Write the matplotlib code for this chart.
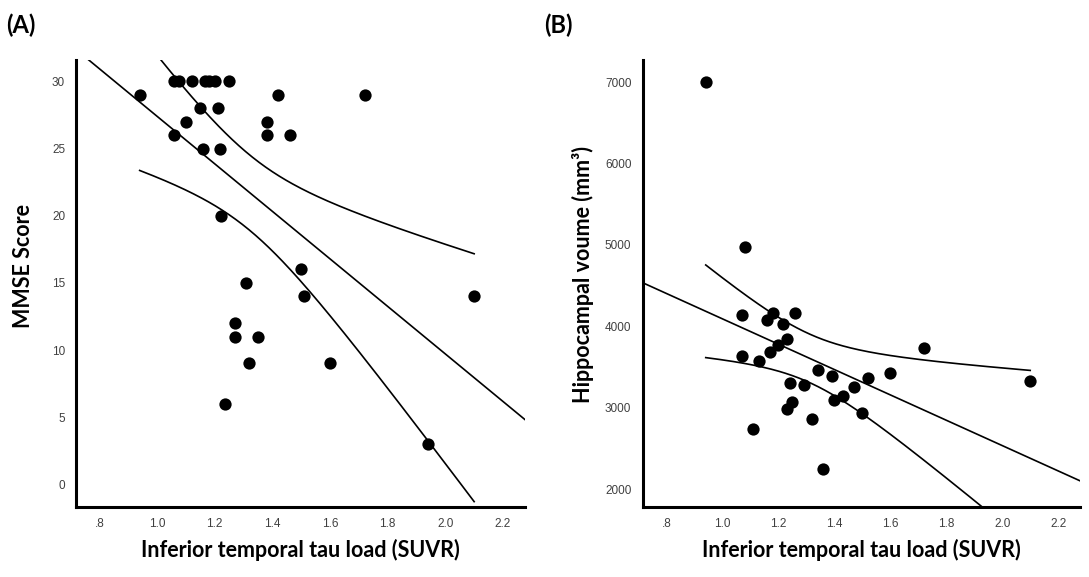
import matplotlib
matplotlib.use("Agg")
import matplotlib.pyplot as plt
import numpy as np

# Panel A: tau load vs MMSE
tau_a = [0.94, 1.06, 1.075, 1.12, 1.165, 1.18, 1.20, 1.25,
         1.15, 1.21, 1.10, 1.38, 1.06, 1.38, 1.46, 1.16, 1.22,
         1.42, 1.72, 1.223, 1.50, 1.31, 1.51, 1.27, 1.27, 1.35,
         1.32, 1.60, 1.235, 1.94, 2.10]
mmse = [29, 30, 30, 30, 30, 30, 30, 30,
        28, 28, 27, 27, 26, 26, 26, 25, 25,
        29, 29, 20, 16, 15, 14, 12, 11, 11,
        9, 9, 6, 3, 14]

# Panel B: tau load vs hippocampal volume
tau_b = [0.94, 1.08, 1.07, 1.18, 1.16, 1.26, 1.215, 1.23, 1.20, 1.17,
         1.07, 1.13, 1.34, 1.39, 1.52, 1.60, 1.24, 1.29, 1.47, 1.43,
         1.40, 1.25, 1.23, 1.50, 1.32, 1.11, 1.36, 1.72, 2.10]
hippo = [7000, 4980, 4140, 4160, 4080, 4170, 4030, 3850, 3770, 3690,
         3630, 3570, 3460, 3390, 3360, 3430, 3300, 3280, 3260, 3150,
         3090, 3070, 2990, 2940, 2860, 2740, 2250, 3730, 3330]

x_ticks = [0.8, 1.0, 1.2, 1.4, 1.6, 1.8, 2.0, 2.2]
x_tick_labels = [".8", "1.0", "1.2", "1.4", "1.6", "1.8", "2.0", "2.2"]
mmse_ticks = [0, 5, 10, 15, 20, 25, 30]
hippo_ticks = [2000, 3000, 4000, 5000, 6000, 7000]

T_CRIT = {27: 2.052, 29: 2.045}  # two-sided 95%, df = n - 2

plt.rcParams["font.family"] = ["Liberation Sans", "DejaVu Sans"]


# Fit line across the whole axis, 95% CI of the mean over the data range
def draw_fit(ax, x, y, xlim):
    x = np.asarray(x)
    y = np.asarray(y, dtype=float)
    n = len(x)
    slope, icpt = np.polyfit(x, y, 1)
    resid = y - (slope * x + icpt)
    s = np.sqrt(np.sum(resid ** 2) / (n - 2))
    sxx = np.sum((x - x.mean()) ** 2)
    t = T_CRIT[n - 2]

    xs = np.linspace(xlim[0], xlim[1], 200)
    ax.plot(xs, slope * xs + icpt, color="black", lw=1.2, zorder=2)

    xc = np.linspace(x.min(), x.max(), 200)
    half = t * s * np.sqrt(1 / n + (xc - x.mean()) ** 2 / sxx)
    fit = slope * xc + icpt
    ax.plot(xc, fit + half, color="black", lw=1.2, zorder=2)
    ax.plot(xc, fit - half, color="black", lw=1.2, zorder=2)


def style_axes(ax, yticks, ylim, ylabel, xlim, ylab_xy):
    ax.set_xlim(xlim)
    ax.set_ylim(ylim)
    ax.set_xticks(x_ticks)
    ax.set_xticklabels(x_tick_labels)
    ax.set_yticks(yticks)
    for side in ["top", "right"]:
        ax.spines[side].set_visible(False)
    for side in ["left", "bottom"]:
        ax.spines[side].set_linewidth(2.2)
    ax.tick_params(length=0, labelsize=8.5, labelcolor="#404040", pad=8)
    lab_font = dict(family=["Lato", "DejaVu Sans"], fontweight="bold", fontsize=15.5)
    ax.set_xlabel("Inferior temporal tau load (SUVR)", labelpad=6, **lab_font)
    ax.set_ylabel(ylabel, **lab_font)
    ax.yaxis.set_label_coords(*ylab_xy)


fig = plt.figure(figsize=(10.89, 5.77), dpi=100)
ax_a = fig.add_axes([0.070, 0.121, 0.412, 0.775])
ax_b = fig.add_axes([0.590, 0.121, 0.402, 0.775])

ax_a.scatter(tau_a, mmse, s=78, color="black", zorder=3, linewidths=0)
draw_fit(ax_a, tau_a, mmse, (0.72, 2.276))
style_axes(ax_a, mmse_ticks, (-1.7, 31.6), "MMSE Score", (0.72, 2.276), (-0.094, 0.54))

ax_b.scatter(tau_b, hippo, s=78, color="black", zorder=3, linewidths=0)
draw_fit(ax_b, tau_b, hippo, (0.714, 2.279))
style_axes(ax_b, hippo_ticks, (1780, 7270), "Hippocampal voume (mm³)", (0.714, 2.279), (-0.110, 0.52))

panel_font = dict(family=["Lato", "DejaVu Sans"], fontweight="bold", fontsize=17, va="center")
fig.text(0.006, 0.957, "(A)", **panel_font)
fig.text(0.4995, 0.957, "(B)", **panel_font)

fig.savefig("out.png", dpi=100)
